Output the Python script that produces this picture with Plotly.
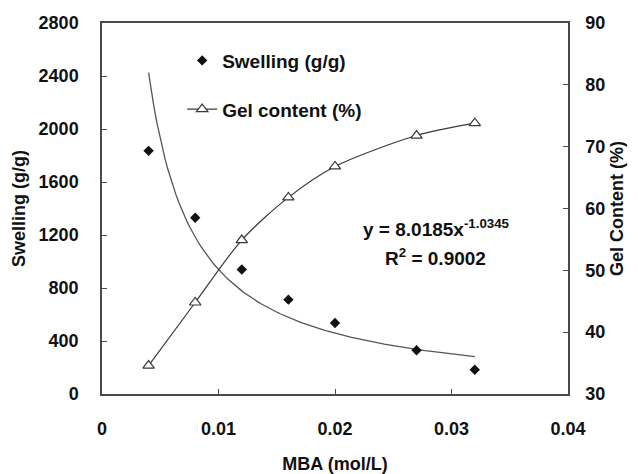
import numpy as np
import plotly.graph_objects as go

# Data
mba = [0.004, 0.008, 0.012, 0.016, 0.020, 0.027, 0.032]
swelling = [1835, 1330, 940, 712, 536, 330, 183]
gel_content = [34.6, 44.8, 54.9, 61.8, 66.8, 71.8, 73.8]

# Power fit shown on the chart: y = A * x^B
fit_a = 8.0185
fit_b = -1.0345
fit_x = np.linspace(min(mba), max(mba), 120)
fit_y = fit_a * fit_x ** fit_b

x_ticks = [0, 0.01, 0.02, 0.03, 0.04]
x_ticktext = ["0", "0.01", "0.02", "0.03", "0.04"]

FONT = "Liberation Sans, Arial, sans-serif"
AX = "#4a4a4a"

fig = go.Figure()

fig.add_trace(go.Scatter(
    x=fit_x, y=fit_y, mode="lines", showlegend=False,
    line=dict(color="#555555", width=1.3), hoverinfo="skip",
))
fig.add_trace(go.Scatter(
    x=mba, y=swelling, mode="markers", name="Swelling (g/g)",
    marker=dict(symbol="diamond", size=8, color="#111111"),
    legendgroup="a",
))
fig.add_trace(go.Scatter(
    x=mba, y=gel_content, mode="lines+markers", name="Gel content (%)",
    yaxis="y2", line=dict(color="#3a3a3a", width=1.2, shape="spline", smoothing=0.8),
    marker=dict(symbol="triangle-up", size=10, color="white",
                line=dict(color="#3a3a3a", width=1.2)),
    legendgroup="b",
))

fig.add_annotation(
    x=0.02867, y=1253, xref="x", yref="y", showarrow=False,
    text="y = 8.0185x<sup>-1.0345</sup>",
    font=dict(family=FONT, size=19, color="#111111", weight="bold"),
)
fig.add_annotation(
    x=0.0286, y=1034, xref="x", yref="y", showarrow=False,
    text="R<sup>2</sup> = 0.9002",
    font=dict(family=FONT, size=19, color="#111111", weight="bold"),
)

tickfont = dict(family=FONT, size=18, color="#111111", weight="bold")
titlefont = dict(family=FONT, size=18, color="#111111", weight="bold")

fig.update_layout(
    width=638, height=474,
    margin=dict(l=102, r=70, t=23, b=80, autoexpand=False),
    paper_bgcolor="white", plot_bgcolor="white",
    showlegend=True,
    legend=dict(
        x=0.172, y=0.95, xanchor="left", yanchor="top",
        font=dict(family=FONT, size=19, color="#111111", weight="bold"),
        bgcolor="rgba(0,0,0,0)", tracegroupgap=21,
    ),
    xaxis=dict(
        range=[0, 0.04], tickvals=x_ticks, ticktext=x_ticktext, automargin=False,
        showgrid=False, zeroline=False, showline=True, linecolor=AX, linewidth=1.5,
        mirror=True, ticks="inside", ticklen=5, tickcolor=AX,
        tickfont=tickfont, ticklabelstandoff=18,
        title=dict(text="MBA (mol/L)", font=titlefont, standoff=30),
    ),
    yaxis=dict(
        range=[0, 2800], dtick=400, automargin=False,
        showgrid=False, zeroline=False, showline=True, linecolor=AX, linewidth=1.5,
        ticks="inside", ticklen=5, tickcolor=AX,
        tickfont=tickfont, ticklabelstandoff=18,
        title=dict(text="Swelling (g/g)", font=titlefont, standoff=8),
    ),
    yaxis2=dict(
        range=[30, 90], dtick=10, overlaying="y", side="right", automargin=False,
        showgrid=False, zeroline=False, showline=True, linecolor=AX, linewidth=1.5,
        ticks="inside", ticklen=5, tickcolor=AX,
        tickfont=tickfont, ticklabelstandoff=12,
        title=dict(text="Gel Content (%)", font=titlefont, standoff=6),
    ),
)

fig.write_html("out.html")
